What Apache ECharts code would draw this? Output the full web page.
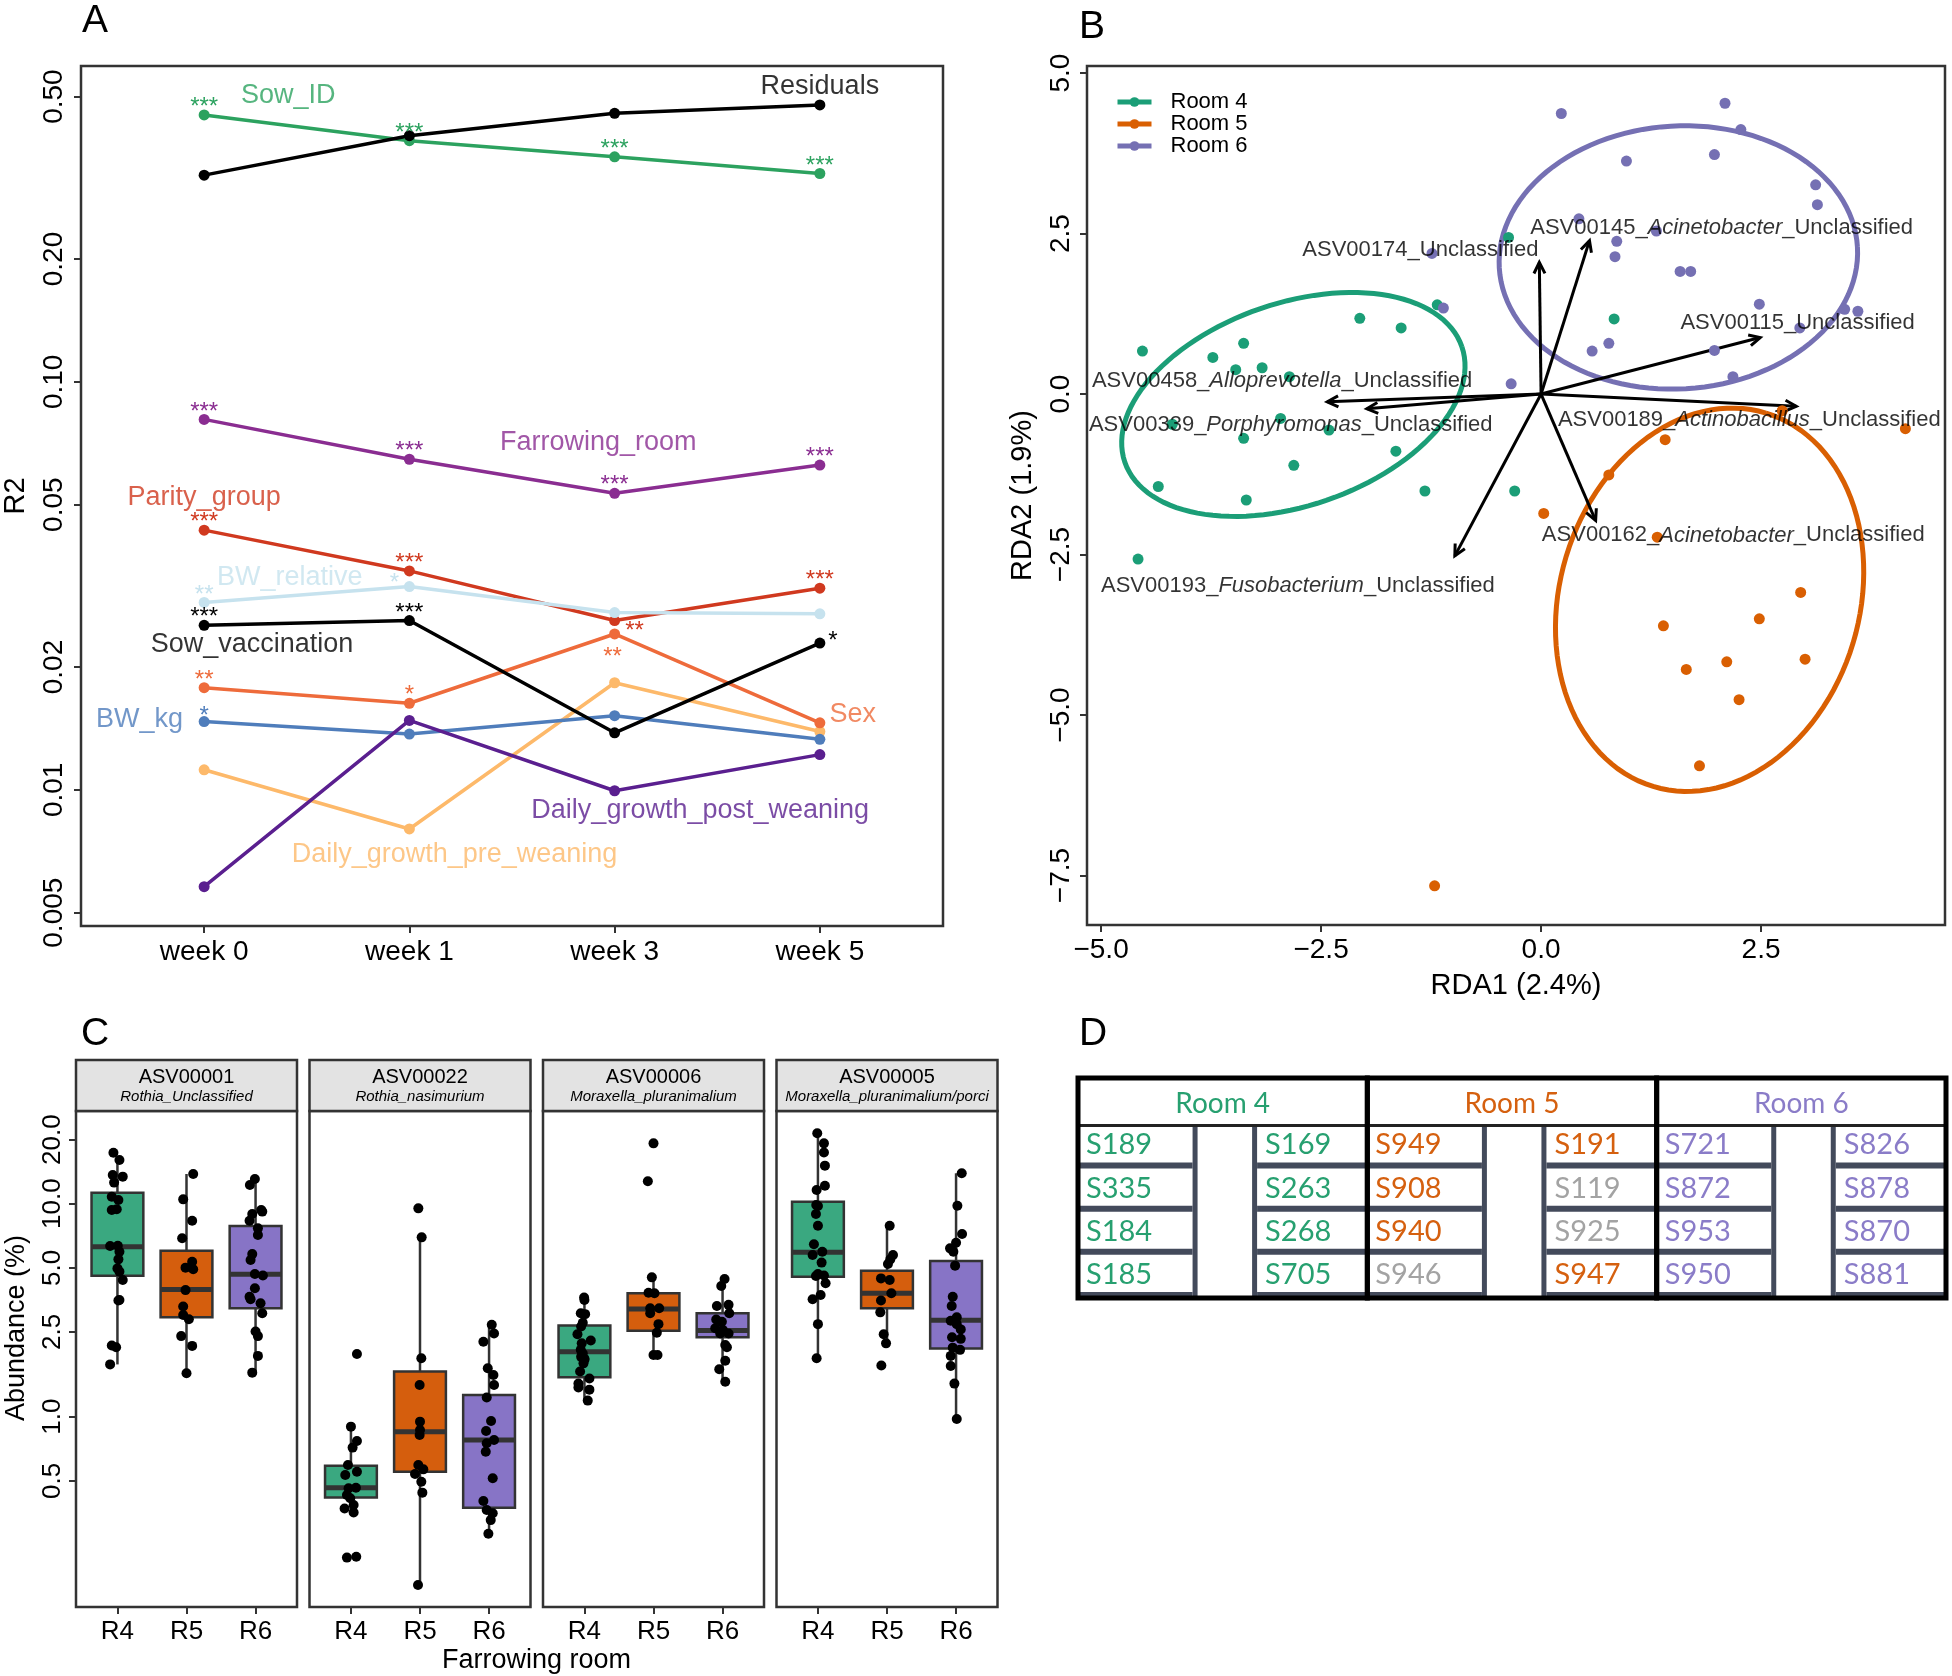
<!DOCTYPE html>
<html><head><meta charset="utf-8">
<script src="https://cdn.jsdelivr.net/npm/echarts@6/dist/echarts.min.js"></script>
<style>html,body{margin:0;padding:0;background:#fff}#c{width:1952px;height:1676px}</style>
</head><body><div id="c"></div>
<script>
const FONT = "'Liberation Sans', Arial, Helvetica, sans-serif";
const TFONT = "Lato, 'Open Sans', 'Noto Sans', sans-serif";
const L = v => Math.log10(v);

// ---------- Panel A data ----------
const weeks = ['week 0', 'week 1', 'week 3', 'week 5'];
const tickValsA = [0.005, 0.01, 0.02, 0.05, 0.1, 0.2, 0.5];
const tickLabelsA = ['0.005', '0.01', '0.02', '0.05', '0.10', '0.20', '0.50'];
const sowID = [0.451, 0.390, 0.356, 0.324];
const residuals = [0.321, 0.401, 0.455, 0.477];
const farrowingRoom = [0.0809, 0.0646, 0.0533, 0.0625];
const parityGroup = [0.0433, 0.0344, 0.0260, 0.0312];
const bwRelative = [0.0288, 0.0315, 0.0272, 0.0270];
const sowVaccination = [0.0253, 0.0260, 0.0138, 0.0229];
const sex = [0.0178, 0.0163, 0.0241, 0.0146];
const dgPre = [0.0112, 0.00802, 0.0183, 0.0139];
const bwKg = [0.0147, 0.0137, 0.0152, 0.0133];
const dgPost = [0.00579, 0.0148, 0.00995, 0.0122];
const sowIDStars = ['***', '***', '***', '***'];
const residualStars = ['', '', '', ''];
const farrowingStars = ['***', '***', '***', '***'];
const parityStars = ['***', '***', '**', '***'];
const bwRelStars = ['**', '*', '', ''];
const vaccStars = ['***', '***', '', '*'];
const sexStars = ['**', '*', '**', ''];
const dgPreStars = ['', '', '', ''];
const bwKgStars = ['*', '', '', ''];
const dgPostStars = ['', '', '', ''];

// ---------- Panel B data ----------
const room4X = [-4.53, -3.73, -3.38, -3.47, -3.17, -2.86, -2.06, -1.59, -1.18, -0.37, -4.19, -2.96, -3.38, -2.41, -1.65, -2.81, -4.35, -3.35, -1.32, -0.30, -4.58, 0.83];
const room4Y = [0.67, 0.57, 0.79, 0.38, 0.41, 0.27, 1.18, 1.03, 1.39, 2.44, -0.47, -0.38, -0.69, -0.56, -0.89, -1.11, -1.44, -1.65, -1.51, -1.51, -2.57, 1.17];
const room5X = [1.41, 2.74, 4.14, 0.77, 0.03, 1.32, 2.95, 1.39, 2.48, 2.11, 3.00, 1.65, 2.25, 1.80, -1.21];
const room5Y = [-0.71, -0.26, -0.54, -1.26, -1.86, -2.23, -3.09, -3.61, -3.50, -4.17, -4.13, -4.29, -4.76, -5.79, -7.66];
const room6X = [-1.24, -1.11, -0.34, 0.23, 2.09, 2.27, 0.97, 1.97, 3.12, 3.14, 0.43, 1.31, 0.86, 0.84, 1.58, 1.70, 2.48, 3.45, 3.60, 2.94, 0.77, 0.58, 1.97, 2.18];
const room6Y = [2.19, 1.34, 0.16, 4.37, 4.53, 4.12, 3.63, 3.73, 3.26, 2.95, 2.73, 2.54, 2.38, 2.14, 1.91, 1.91, 1.40, 1.32, 1.29, 1.03, 0.79, 0.67, 0.68, 0.27];
// ellipse: centre, semi-diameter u, conjugate semi-diameter v (data units)
const ellipse4 = [-2.815, -0.162, 1.915, 0.899, -0.373, 1.494];
const ellipse5 = [1.915, -3.204, 0.641, 2.908, -1.630, 0.675];
const ellipse6 = [1.560, 2.128, 2.035, 0.163, -0.087, 2.045];
const arrowIds = ['ASV00174', 'ASV00145', 'ASV00115', 'ASV00189', 'ASV00458', 'ASV00339', 'ASV00193', 'ASV00162'];
const arrowGenus = ['', 'Acinetobacter', '', 'Actinobacillus', 'Alloprevotella', 'Porphyromonas', 'Fusobacterium', 'Acinetobacter'];
const arrowTipX = [-0.02, 0.55, 2.49, 2.90, -2.43, -1.98, -0.98, 0.62];
const arrowTipY = [2.05, 2.39, 0.88, -0.19, -0.12, -0.23, -2.52, -1.97];
const rdaTicks = [-7.5, -5, -2.5, 0, 2.5, 5];

// ---------- Panel C data ----------
const rooms = ['R4', 'R5', 'R6'];
const abundTicks = [0.5, 1, 2.5, 5, 10, 20];
const abundTickLabels = ['0.5', '1.0', '2.5', '5.0', '10.0', '20.0'];
const facetIds = ['ASV00001', 'ASV00022', 'ASV00006', 'ASV00005'];
const facetTaxa = ['Rothia_Unclassified', 'Rothia_nasimurium', 'Moraxella_pluranimalium', 'Moraxella_pluranimalium/porci'];
// box stats: [lower whisker, Q1, median, Q3, upper whisker]
const asv00001Box = [[1.76, 4.59, 6.28, 11.27, 16.0], [1.60, 2.93, 3.96, 6.02, 13.79], [1.60, 3.23, 4.66, 7.85, 13.06]];
const asv00022Box = [[0.355, 0.417, 0.464, 0.589, 0.898], [0.162, 0.552, 0.851, 1.63, 6.95], [0.282, 0.374, 0.777, 1.265, 2.70]];
const asv00006Box = [[1.19, 1.53, 2.02, 2.68, 3.63], [1.95, 2.53, 3.20, 3.80, 4.51], [1.46, 2.36, 2.54, 3.06, 4.43]];
const asv00005Box = [[1.88, 4.54, 5.91, 10.22, 21.4], [2.21, 3.23, 3.80, 4.85, 7.88], [0.975, 2.09, 2.84, 5.38, 13.89]];
const a1r4 = [17.36, 16.04, 13.64, 13.40, 12.56, 10.79, 10.41, 9.34, 9.41, 6.33, 6.35, 5.95, 5.48, 4.97, 4.80, 4.38, 3.51, 3.53, 2.16, 2.12, 1.76];
const a1r4j = [-0.058, 0.029, -0.068, 0.077, -0.048, -0.082, 0.014, -0.082, -0.01, -0.106, 0.005, 0.029, 0.014, 0, 0.029, 0.077, 0.014, 0.029, -0.082, -0.019, -0.106];
const a1r5 = [13.79, 10.48, 8.32, 6.88, 5.34, 5.01, 4.92, 3.93, 3.29, 3.00, 2.87, 2.39, 2.15, 1.60];
const a1r5j = [0.097, -0.048, 0.082, -0.063, 0.082, -0.014, 0.097, -0.014, -0.048, -0.048, 0.034, -0.077, 0.082, 0];
const a1r6 = [13.06, 12.24, 8.95, 9.34, 9.18, 8.32, 7.66, 7.13, 5.80, 5.44, 4.68, 4.60, 4.01, 3.66, 3.56, 3.41, 3.06, 2.51, 2.39, 1.93, 1.61];
const a1r6j = [-0.01, -0.082, -0.048, 0.082, 0.097, -0.087, 0.034, 0.034, -0.048, -0.072, -0.01, 0.106, -0.01, -0.087, -0.072, 0.072, 0.097, 0, 0.034, 0.034, -0.048];
const a22r4 = [0.898, 0.769, 0.716, 0.593, 0.552, 0.532, 0.461, 0.464, 0.429, 0.414, 0.385, 0.371, 0.355, 1.97, 0.218, 0.220];
const a22r4j = [0, 0.087, 0.024, -0.043, 0.087, -0.082, -0.034, 0.072, -0.058, -0.01, 0.039, -0.092, 0.039, 0.087, -0.058, 0.077];
const a22r5 = [9.51, 6.95, 1.88, 1.41, 0.948, 0.866, 0.821, 0.593, 0.566, 0.538, 0.495, 0.440, 0.162];
const a22r5j = [-0.024, 0.024, 0.019, -0.005, 0, 0, -0.005, -0.024, 0.048, -0.072, 0.019, 0.034, -0.029];
const a22r6 = [2.70, 2.46, 2.25, 1.69, 1.57, 1.41, 1.23, 0.954, 0.857, 0.777, 0.750, 0.685, 0.514, 0.402, 0.365, 0.352, 0.327, 0.282];
const a22r6j = [0.039, 0.072, -0.082, -0.019, 0.063, 0.072, -0.034, 0.029, -0.043, 0.072, -0.034, -0.048, 0.053, -0.082, -0.034, 0.053, 0.024, -0.01];
const a6r4 = [3.63, 3.53, 3.06, 3.03, 2.76, 2.65, 2.44, 2.28, 2.21, 2.06, 1.98, 1.87, 1.78, 1.63, 1.51, 1.43, 1.37, 1.34, 1.19, 1.85, 1.91];
const a6r4j = [-0.005, 0, -0.053, 0.01, -0.024, -0.048, -0.101, 0.092, -0.039, -0.053, -0.024, 0, -0.014, -0.063, 0.072, -0.087, -0.087, 0.072, 0.048, 0, -0.048];
const a6r5 = [19.2, 12.74, 4.51, 3.82, 3.80, 3.23, 3.23, 3.06, 2.72, 2.48, 1.95, 1.95];
const a6r5j = [0, -0.082, -0.024, -0.072, 0.014, -0.048, 0.082, -0.048, 0.072, 0.048, 0, 0.058];
const a6r6 = [4.43, 4.11, 3.35, 3.31, 3.06, 2.86, 2.79, 2.60, 2.46, 2.46, 2.17, 2.12, 1.83, 1.67, 1.46, 2.55];
const a6r6j = [0.029, -0.019, 0.087, -0.082, 0.097, -0.092, -0.01, -0.106, -0.034, 0.087, 0.039, 0.063, 0.039, -0.048, 0.039, 0.005];
const a5r4 = [21.4, 19.2, 17.4, 15.09, 12.15, 11.60, 9.86, 9.75, 8.95, 7.88, 6.45, 5.95, 5.74, 5.29, 4.68, 4.60, 4.58, 4.23, 3.73, 3.56, 2.72, 1.88];
const a5r4j = [-0.01, 0.087, 0.087, 0.101, 0.101, -0.019, -0.024, 0, -0.029, 0, -0.058, 0.063, -0.077, 0.053, 0, 0.087, -0.029, 0.111, 0.039, -0.077, 0, -0.019];
const a5r5 = [7.88, 5.74, 5.48, 5.21, 4.46, 4.38, 3.51, 3.80, 3.09, 2.44, 2.21, 1.74];
const a5r5j = [0.039, 0.087, 0.048, 0.014, -0.087, 0.039, -0.087, 0.063, -0.097, -0.048, -0.014, -0.082];
const a5r6 = [13.89, 9.79, 7.21, 6.56, 6.17, 5.95, 5.12, 3.66, 3.31, 2.82, 2.93, 2.57, 2.36, 2.32, 2.11, 2.06, 1.93, 1.73, 1.43, 0.975, 2.72];
const a5r6j = [0.082, 0.019, 0.087, 0, -0.087, -0.039, -0.014, -0.048, -0.063, -0.077, 0.01, 0.068, -0.058, 0.068, -0.048, 0.058, -0.077, -0.077, -0.024, 0.01, 0.01];

// ---------- Panel D data ----------
const tableRooms = ['Room 4', 'Room 5', 'Room 6'];
const room4Left = ['S189', 'S335', 'S184', 'S185'];
const room4Right = ['S169', 'S263', 'S268', 'S705'];
const room5Left = ['S949', 'S908', 'S940', 'S946'];
const room5Right = ['S191', 'S119', 'S925', 'S947'];
const room6Left = ['S721', 'S872', 'S953', 'S950'];
const room6Right = ['S826', 'S878', 'S870', 'S881'];
const greySows = ['S946', 'S119', 'S925'];

// ---------- styling / layout ----------
const colA = {
  Sow_ID: '#2CA25F', Residuals: '#000000', Farrowing_room: '#8A2D91', Parity_group: '#D0391F',
  BW_relative: '#C6E2EE', Sow_vaccination: '#000000', Sex: '#EE6B3B',
  Daily_growth_pre_weaning: '#FDB96A', BW_kg: '#4F7DBB', Daily_growth_post_weaning: '#5A1F8F'
};
const listA = [
  ['Sow_ID', sowID, sowIDStars], ['Residuals', residuals, residualStars],
  ['Farrowing_room', farrowingRoom, farrowingStars], ['Parity_group', parityGroup, parityStars],
  ['BW_relative', bwRelative, bwRelStars], ['Daily_growth_pre_weaning', dgPre, dgPreStars],
  ['BW_kg', bwKg, bwKgStars], ['Daily_growth_post_weaning', dgPost, dgPostStars],
  ['Sex', sex, sexStars], ['Sow_vaccination', sowVaccination, vaccStars]
];
const nameAnchorA = {
  Sow_ID: [1.41, 0.502], Residuals: [4.00, 0.528], Farrowing_room: [2.92, 0.0708],
  Parity_group: [1.00, 0.0521], BW_relative: [1.417, 0.0332], Sow_vaccination: [1.233, 0.02266],
  BW_kg: [0.685, 0.01483], Sex: [4.16, 0.01526], Daily_growth_post_weaning: [3.417, 0.00888],
  Daily_growth_pre_weaning: [2.22, 0.00696]
};
const starOffsets = {
  'Parity_group-2': [20, 33], 'BW_relative-1': [-15, 19], 'Sow_vaccination-3': [13, 21],
  'Sex-2': [-2, 46], 'BW_kg-0': [0, 17]
};
const arrowLabelAnchor = [[-1.372, 2.243], [2.052, 2.595], [2.915, 1.115], [2.366, -0.405],
  [-2.943, 0.207], [-2.845, -0.478], [-2.764, -2.981], [2.184, -2.202]];
const roomColB = ['#1B9E77', '#D95F02', '#7570B3'];
const boxFill = ['#3AA880', '#D55E0D', '#8774C6'];
const tableColors = ['#27A070', '#D5600F', '#8A7CC8'];
const SEP = '#434A5B';

const tickStyle = { length: 7, lineStyle: { color: '#333', width: 2 } };
const noLine = { show: false, onZero: false };
const fmtMinus = v => (Math.abs(v) < 1e-9 ? '0.0' : v.toFixed(1)).replace('-', '\u2212');
const near = (arr, v) => arr.findIndex(t => Math.abs(L(t) - v) < 1e-6);

// ---------- axes ----------
const grids = [
  { left: 73, top: 66, width: 870, height: 860 },
  { left: 1087, top: 66, width: 858, height: 859 }
];
for (let f = 0; f < 4; f++) grids.push({ left: 76 + f * 233.5, top: 1111, width: 221, height: 496 });
grids.forEach(g => { g.show = true; g.borderColor = '#333'; g.borderWidth = 2.5; g.backgroundColor = 'transparent'; });
grids.push({ left: 1078, top: 1078, width: 868, height: 220, show: false });

const xAxes = [], yAxes = [];
xAxes.push({
  gridIndex: 0, type: 'value', min: 0.4, max: 4.6, axisLine: noLine, splitLine: { show: false },
  axisTick: Object.assign({ customValues: [1, 2, 3, 4] }, tickStyle),
  axisLabel: { customValues: [1, 2, 3, 4], formatter: v => weeks[Math.round(v) - 1], fontSize: 28, fontFamily: FONT, color: '#000', margin: 12 }
});
yAxes.push({
  gridIndex: 0, type: 'value', min: L(0.004638), max: L(0.5943), axisLine: noLine, splitLine: { show: false },
  axisTick: Object.assign({ customValues: tickValsA.map(L) }, tickStyle),
  axisLabel: { customValues: tickValsA.map(L), formatter: v => tickLabelsA[near(tickValsA, v)], rotate: 90, fontSize: 28, fontFamily: FONT, color: '#000', margin: 13 },
  name: 'R2', nameLocation: 'middle', nameRotate: 90, nameGap: 51, nameTextStyle: { fontSize: 29, fontFamily: FONT, color: '#000' }
});
xAxes.push({
  gridIndex: 1, type: 'value', min: -5.16, max: 4.59, axisLine: noLine, splitLine: { show: false },
  axisTick: Object.assign({ customValues: [-5, -2.5, 0, 2.5] }, tickStyle),
  axisLabel: { customValues: [-5, -2.5, 0, 2.5], formatter: fmtMinus, fontSize: 28, fontFamily: FONT, color: '#000', margin: 11 },
  name: 'RDA1 (2.4%)', nameLocation: 'middle', nameGap: 46, nameTextStyle: { fontSize: 29, fontFamily: FONT, color: '#000' }
});
yAxes.push({
  gridIndex: 1, type: 'value', min: -8.27, max: 5.11, axisLine: noLine, splitLine: { show: false },
  axisTick: Object.assign({ customValues: rdaTicks }, tickStyle),
  axisLabel: { customValues: rdaTicks, formatter: fmtMinus, rotate: 90, fontSize: 28, fontFamily: FONT, color: '#000', margin: 12 },
  name: 'RDA2 (1.9%)', nameLocation: 'middle', nameRotate: 90, nameGap: 50, nameTextStyle: { fontSize: 29, fontFamily: FONT, color: '#000' }
});
for (let f = 0; f < 4; f++) {
  xAxes.push({
    gridIndex: 2 + f, type: 'value', min: 0.4, max: 3.6, axisLine: noLine, splitLine: { show: false },
    axisTick: Object.assign({ customValues: [1, 2, 3] }, tickStyle),
    axisLabel: { customValues: [1, 2, 3], formatter: v => rooms[Math.round(v) - 1], fontSize: 26, fontFamily: FONT, color: '#000', margin: 12 }
  });
  yAxes.push({
    gridIndex: 2 + f, type: 'value', min: -0.8934, max: 1.4352, axisLine: noLine, splitLine: { show: false },
    axisTick: Object.assign({ show: f === 0, customValues: abundTicks.map(L) }, tickStyle),
    axisLabel: { show: f === 0, customValues: abundTicks.map(L), formatter: v => abundTickLabels[near(abundTicks, v)], rotate: 90, fontSize: 26, fontFamily: FONT, color: '#000', margin: 10 }
  });
}
xAxes.push({ gridIndex: 6, type: 'value', min: 0, max: 3, show: false, axisLine: noLine });
yAxes.push({ gridIndex: 6, type: 'value', min: 0, max: 5.1, inverse: true, show: false, axisLine: noLine });

// ---------- series ----------
const series = [];
// Panel A
listA.forEach(([name, vals, stars]) => {
  const c = colA[name];
  series.push({
    type: 'line', name, xAxisIndex: 0, yAxisIndex: 0, symbol: 'circle', symbolSize: 11, silent: true,
    lineStyle: { width: 3.5, color: c }, itemStyle: { color: c },
    data: vals.map((v, i) => ({
      value: [i + 1, L(v)],
      label: { show: !!stars[i], formatter: stars[i] || ' ', position: 'top', distance: 5,
        offset: starOffsets[name + '-' + i] || [0, 15], color: c, fontSize: 24, fontFamily: FONT }
    }))
  });
});
series.push({
  type: 'scatter', xAxisIndex: 0, yAxisIndex: 0, symbolSize: 0, silent: true,
  data: listA.map(([name]) => ({
    value: [nameAnchorA[name][0], L(nameAnchorA[name][1])],
    label: { show: true, position: 'inside', formatter: name, color: colA[name], fontSize: 27, fontFamily: FONT }
  }))
});

// Panel B
['Room 4', 'Room 5', 'Room 6'].forEach((n, k) => series.push({
  type: 'line', name: n, xAxisIndex: 1, yAxisIndex: 1, data: [], symbol: 'circle', symbolSize: 11,
  itemStyle: { color: roomColB[k] }, lineStyle: { color: roomColB[k], width: 5 }
}));
series.push({
  type: 'custom', xAxisIndex: 1, yAxisIndex: 1, silent: true, encode: { x: 0, y: 1 },
  data: [ellipse4, ellipse5, ellipse6].map((e, k) => ({ value: e, itemStyle: { color: roomColB[k] } })),
  renderItem: (params, api) => {
    const cx = api.value(0), cy = api.value(1), ux = api.value(2), uy = api.value(3), vx = api.value(4), vy = api.value(5);
    const pts = [];
    for (let k = 0; k <= 120; k++) {
      const t = k / 120 * 2 * Math.PI;
      pts.push(api.coord([cx + ux * Math.cos(t) + vx * Math.sin(t), cy + uy * Math.cos(t) + vy * Math.sin(t)]));
    }
    return { type: 'polyline', shape: { points: pts }, style: { stroke: api.visual('color'), lineWidth: 5, fill: null } };
  }
});
[[room4X, room4Y], [room5X, room5Y], [room6X, room6Y]].forEach(([xs, ys], k) => series.push({
  type: 'scatter', name: 'pts' + k, xAxisIndex: 1, yAxisIndex: 1, symbolSize: 11, silent: true,
  itemStyle: { color: roomColB[k], opacity: 1 }, data: xs.map((x, i) => [x, ys[i]])
}));
series.push({
  type: 'custom', xAxisIndex: 1, yAxisIndex: 1, silent: true, encode: { x: 0, y: 1 },
  data: arrowTipX.map((x, i) => [x, arrowTipY[i]]),
  renderItem: (params, api) => {
    const o = api.coord([0, 0]), t = api.coord([api.value(0), api.value(1)]);
    const a = Math.atan2(t[1] - o[1], t[0] - o[0]);
    const hl = 11, hw = 5.5;
    const bx = t[0] - hl * Math.cos(a), by = t[1] - hl * Math.sin(a);
    const p1 = [bx + hw * Math.sin(a), by - hw * Math.cos(a)], p2 = [bx - hw * Math.sin(a), by + hw * Math.cos(a)];
    return { type: 'group', children: [
      { type: 'line', shape: { x1: o[0], y1: o[1], x2: t[0], y2: t[1] }, style: { stroke: '#000', lineWidth: 3 } },
      { type: 'polyline', shape: { points: [p1, t, p2] }, style: { stroke: '#000', lineWidth: 3, fill: null, lineJoin: 'miter' } }
    ] };
  }
});
series.push({
  type: 'scatter', xAxisIndex: 1, yAxisIndex: 1, symbolSize: 0, silent: true,
  data: arrowIds.map((id, i) => ({
    value: arrowLabelAnchor[i],
    label: { show: true, position: 'inside', color: '#000', fontSize: 22, fontFamily: FONT,
      formatter: id + '_' + (arrowGenus[i] ? '{i|' + arrowGenus[i] + '}_' : '') + 'Unclassified',
      rich: { i: { fontStyle: 'italic', fontSize: 22, fontFamily: FONT, color: '#000' } } }
  }))
});

// Panel C
const boxes = [asv00001Box, asv00022Box, asv00006Box, asv00005Box];
const pts = [[[a1r4, a1r4j], [a1r5, a1r5j], [a1r6, a1r6j]], [[a22r4, a22r4j], [a22r5, a22r5j], [a22r6, a22r6j]],
  [[a6r4, a6r4j], [a6r5, a6r5j], [a6r6, a6r6j]], [[a5r4, a5r4j], [a5r5, a5r5j], [a5r6, a5r6j]]];
for (let f = 0; f < 4; f++) {
  series.push({
    type: 'custom', xAxisIndex: 2 + f, yAxisIndex: 2 + f, silent: true, encode: { x: 0, y: [1, 2, 3, 4, 5] },
    data: boxes[f].map((s, k) => ({ value: [k + 1].concat(s.map(L)), itemStyle: { color: boxFill[k] } })),
    renderItem: (params, api) => {
      const x = api.value(0);
      const p = [1, 2, 3, 4, 5].map(d => api.coord([x, api.value(d)]));
      const half = api.size([0.75, 0])[0] / 2;
      const st = { stroke: '#333', lineWidth: 2.5 };
      return { type: 'group', children: [
        { type: 'line', shape: { x1: p[0][0], y1: p[0][1], x2: p[1][0], y2: p[1][1] }, style: st },
        { type: 'line', shape: { x1: p[3][0], y1: p[3][1], x2: p[4][0], y2: p[4][1] }, style: st },
        { type: 'rect', shape: { x: p[1][0] - half, y: p[3][1], width: 2 * half, height: p[1][1] - p[3][1] },
          style: { fill: api.visual('color'), stroke: '#333', lineWidth: 2.5 } },
        { type: 'line', shape: { x1: p[2][0] - half, y1: p[2][1], x2: p[2][0] + half, y2: p[2][1] }, style: { stroke: '#333', lineWidth: 5 } }
      ] };
    }
  });
  const d = [];
  pts[f].forEach(([vals, jit], k) => vals.forEach((v, i) => d.push([k + 1 + jit[i], L(v)])));
  series.push({ type: 'scatter', xAxisIndex: 2 + f, yAxisIndex: 2 + f, symbolSize: 10, silent: true, itemStyle: { color: '#000', opacity: 1 }, data: d });
}

// Panel D (table): header band [0, 1.1], data rows of height 1 below it
const cols = [[room4Left, room4Right], [room5Left, room5Right], [room6Left, room6Right]];
const cellItems = [];
cols.forEach((pair, b) => pair.forEach((col, side) => col.forEach((s, r) => cellItems.push({
  value: [b, side, 1.1 + r], name: s, itemStyle: { color: greySows.includes(s) ? '#A3A3A3' : tableColors[b] }
}))));
const C1 = 0.396, C2 = 0.619;
series.push({
  type: 'custom', xAxisIndex: 6, yAxisIndex: 6, silent: true, encode: { x: 0, y: 2 }, z: 3,
  data: cellItems,
  renderItem: (params, api) => {
    const b = api.value(0), side = api.value(1), r = api.value(2);
    const a = api.coord([b + (side ? C2 : 0), r]), c = api.coord([b + (side ? 1 : C1), r + 1]);
    const txt = cellItems[params.dataIndex].name;
    return { type: 'group', children: [
      { type: 'rect', shape: { x: a[0], y: c[1] - 6, width: c[0] - a[0], height: 6 }, style: { fill: SEP } },
      { type: 'text', x: a[0] + 8, y: (a[1] + c[1] - 6) / 2 + 1,
        style: { text: txt, fill: api.visual('color'), fontSize: 29, fontFamily: TFONT, align: 'left', verticalAlign: 'middle', textAlign: 'left', textVerticalAlign: 'middle' } }
    ] };
  }
});
series.push({
  type: 'custom', xAxisIndex: 6, yAxisIndex: 6, silent: true, encode: { x: 0, y: 1 }, z: 4,
  data: tableRooms.map((n, b) => ({ value: [b, 0], name: n, itemStyle: { color: tableColors[b] } })),
  renderItem: (params, api) => {
    const b = api.value(0);
    const p0 = api.coord([b, 0]), p1 = api.coord([b + 1, 5.1]), h = api.coord([b + 1, 1.1]);
    const c1 = api.coord([b + C1, 1.1]), c2 = api.coord([b + C2, 1.1]);
    return { type: 'group', children: [
      { type: 'rect', shape: { x: c1[0], y: h[1], width: 5, height: p1[1] - h[1] }, style: { fill: SEP } },
      { type: 'rect', shape: { x: c2[0] - 5, y: h[1], width: 5, height: p1[1] - h[1] }, style: { fill: SEP } },
      { type: 'line', shape: { x1: p0[0], y1: h[1], x2: p1[0], y2: h[1] }, style: { stroke: '#222', lineWidth: 3 } },
      { type: 'text', x: (p0[0] + p1[0]) / 2, y: (p0[1] + h[1]) / 2 + 2,
        style: { text: tableRooms[b], fill: api.visual('color'), fontSize: 28, fontFamily: TFONT, align: 'center', verticalAlign: 'middle', textAlign: 'center', textVerticalAlign: 'middle' } },
      { type: 'rect', shape: { x: p0[0], y: p0[1], width: p1[0] - p0[0], height: p1[1] - p0[1] }, style: { fill: null, stroke: '#000', lineWidth: 5 } }
    ] };
  }
});

// ---------- graphic (panel letters, strips, shared titles) ----------
const txt = (x, y, text, size, extra) => Object.assign({
  type: 'text', x, y, silent: true,
  style: { text, fontSize: size, fontFamily: FONT, fill: '#000', align: 'center', verticalAlign: 'middle', textAlign: 'center', textVerticalAlign: 'middle' }
}, extra || {});
const graphics = [
  txt(95, 21, 'A', 39), txt(1092, 27, 'B', 39), txt(95, 1034, 'C', 39), txt(1093, 1034, 'D', 39),
  txt(536.5, 1661, 'Farrowing room', 27),
  txt(17, 1328, 'Abundance (%)', 27, { rotation: Math.PI / 2 })
];
for (let f = 0; f < 4; f++) {
  const left = 76 + f * 233.5;
  graphics.push({ type: 'rect', silent: true, shape: { x: left, y: 1060, width: 221, height: 51 }, style: { fill: '#E3E3E3', stroke: '#333', lineWidth: 2.5 } });
  graphics.push(txt(left + 110.5, 1077, facetIds[f], 20));
  const t = txt(left + 110.5, 1097, facetTaxa[f], 15);
  t.style.fontStyle = 'italic';
  graphics.push(t);
}

const option = {
  animation: false,
  backgroundColor: '#fff',
  grid: grids, xAxis: xAxes, yAxis: yAxes, series,
  legend: {
    data: ['Room 4', 'Room 5', 'Room 6'], orient: 'vertical', left: 1115, top: 91, padding: 0, selectedMode: false,
    itemWidth: 34, itemHeight: 12, itemGap: 0, lineStyle: { width: 5 },
    textStyle: { fontSize: 22, fontFamily: FONT, color: '#000', lineHeight: 21, padding: [0, 0, 0, 14] }
  },
  graphic: graphics
};
const chart = echarts.init(document.getElementById('c'), null, { renderer: 'canvas', width: 1952, height: 1676 });
chart.setOption(option);
</script></body></html>
